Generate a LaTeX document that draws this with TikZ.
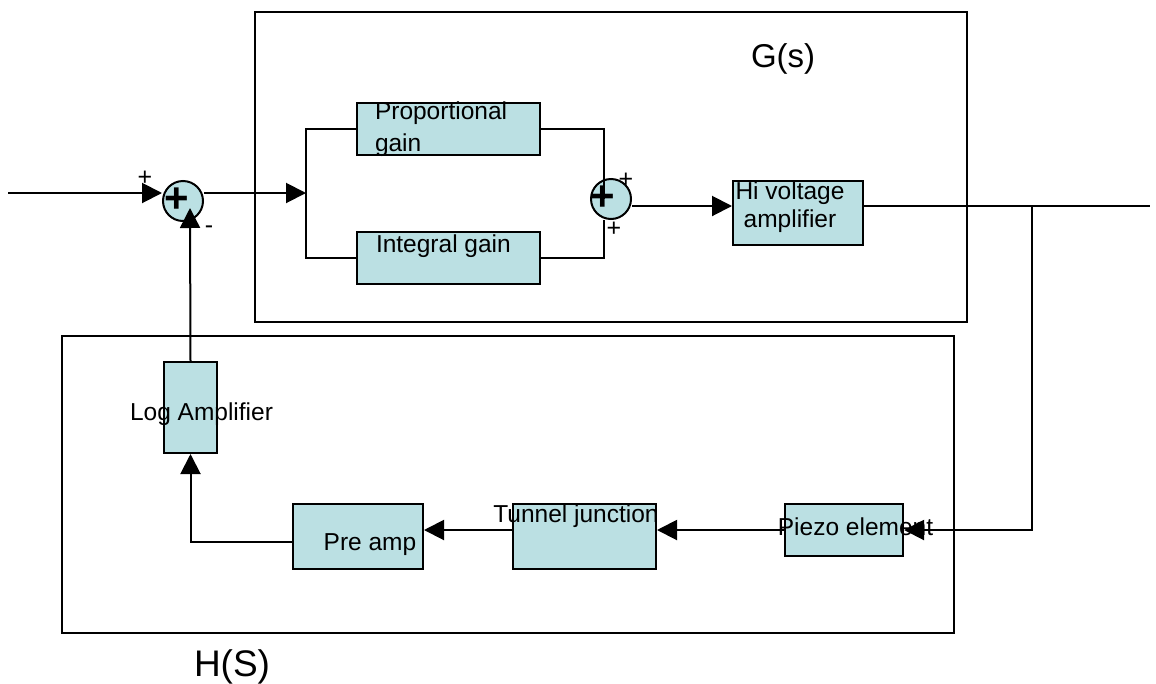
\documentclass[tikz,border=0pt]{standalone}
\usepackage{fontspec}
\setmainfont{Liberation Sans}
\usetikzlibrary{arrows.meta}
\definecolor{boxfill}{RGB}{187,224,227}

\begin{document}
\begin{tikzpicture}[x=1pt,y=-1pt,line width=2pt,
  block/.style={draw,fill=boxfill,inner sep=0pt},
  sumnode/.style={draw,circle,fill=boxfill,minimum size=40pt,inner sep=0pt},
  boxtext/.style={inner sep=0pt,font=\fontsize{24.5}{28}\selectfont},
  title/.style={inner sep=0pt,font=\fontsize{#1}{#1}\selectfont},
  sign/.style={inner sep=0pt,font=\fontsize{25}{25}\selectfont},
  plus/.style={inner sep=0pt,font=\fontsize{42}{42}\selectfont\bfseries},
  arr/.style={-{Triangle[length=20pt,width=20pt]}}]
  \useasboundingbox (0,0) rectangle (1156,683);
  % frames G(s) and H(S)
  \draw (255,12) rectangle (967,322);
  \draw (62,336) rectangle (954,633);
  \node[title=33,anchor=base west] (gs) at (750,67) {G(s)};
  \node[title=37,anchor=base west] (hs) at (193,676) {H(S)};
  % junctions
  \coordinate (in) at (8,193);
  \coordinate (split) at (306,193);
  \coordinate (fbtip) at (190,208);
  \coordinate (j2) at (604,199);
  \coordinate (tap) at (1032,206);
  \coordinate (gout) at (1150,206);
  % blocks
  \node[sumnode] (sum1) at (183,201) {};
  \node[sumnode] (sum2) at (611,199) {};
  \node[block,minimum width=183pt,minimum height=52pt] (prop) at (448.5,129) {};
  \node[block,minimum width=183pt,minimum height=52pt] (integ) at (448.5,258) {};
  \node[block,minimum width=130pt,minimum height=64pt] (hv) at (798,213) {};
  \node[block,minimum width=53pt,minimum height=91pt] (logamp) at (190.5,407.5) {};
  \node[block,minimum width=130pt,minimum height=65pt] (preamp) at (358,536.5) {};
  \node[block,minimum width=143pt,minimum height=65pt] (tunnel) at (584.5,536.5) {};
  \node[block,minimum width=118pt,minimum height=52pt] (piezo) at (844,530) {};
  % texts
  \node[boxtext,anchor=north west,align=left] (proptxt) at (374,101) {Proportional\\[4pt]gain};
  \node[boxtext,anchor=base west] (integtxt) at (375,252) {Integral gain};
  \node[boxtext,align=center] (hvtxt) at (790,207) {Hi voltage\\amplifier};
  \node[boxtext,anchor=base] (logtxt) at (201.5,420) {Log Amplifier};
  \node[boxtext,anchor=base] (pretxt) at (370,550) {Pre amp};
  \node[boxtext,anchor=base] (tuntxt) at (576,522) {Tunnel junction};
  \node[boxtext,anchor=base] (pztxt) at (855.5,535) {Piezo element};
  \node[plus] (plus1) at (177,200) {+};
  \node[plus] (plus2) at (603,198) {+};
  \node[sign] (s1a) at (145,178) {+};
  \node[sign] (s1b) at (209,230) {-};
  \node[sign] (s2a) at (626,180) {+};
  \node[sign] (s2b) at (614,229) {+};
  % connectors
  \draw[arr] (in) -- (in -| sum1.west);
  \draw[arr] (in -| sum1.east) -- (split);
  \draw (prop.west) -| (integ.west -| split) -- (integ.west);
  \draw (prop.east) -| (j2);
  \draw (integ.east) -| (sum2.south -| j2);
  \draw[arr] (sum2.east |- gout) -- (hv.west |- gout);
  \draw (hv.east |- gout) -- (gout);
  \draw[arr] (tap) |- (piezo.east);
  \draw[arr] (piezo.west) -- (tunnel.east |- piezo.west);
  \draw[arr] (tunnel.west |- piezo.west) -- (preamp.east |- piezo.west);
  \draw[arr] ([yshift=-5.5pt]preamp.west) -| (logamp.south);
  \draw[arr] (logamp.north) -- (fbtip);
\end{tikzpicture}
\end{document}
